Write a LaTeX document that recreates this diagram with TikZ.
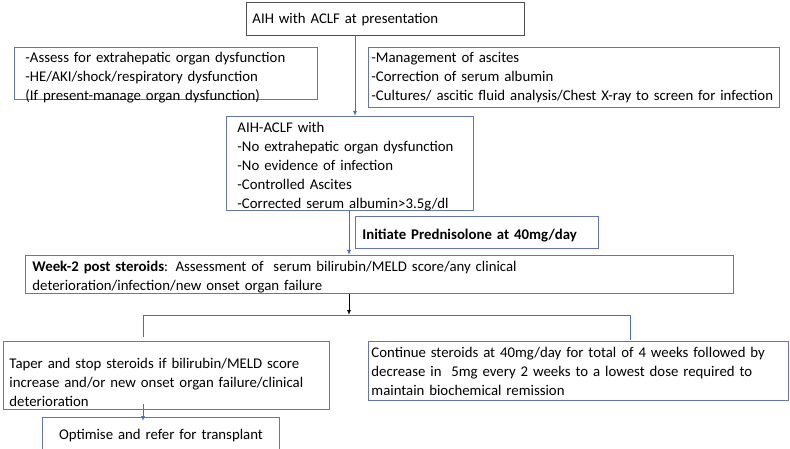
\documentclass[tikz,border=0pt]{standalone}
\usepackage{fontspec}
\setmainfont{Carlito}
\usetikzlibrary{arrows.meta}
\definecolor{boxblue}{HTML}{6474BC}
\definecolor{arrblue}{HTML}{4A6BC8}
\definecolor{boxgray}{HTML}{505050}
\begin{document}
\begin{tikzpicture}[x=1pt,y=-1pt,
  every node/.style={font=\fontsize{14.8}{19}\selectfont, text=black},
  bx/.style={draw=boxblue, line width=0.9pt, align=left, inner ysep=0pt, anchor=north west},
  arr/.style={draw=arrblue, line width=0.9pt, -{Latex[length=5pt,width=4pt]}},
  ln/.style={draw=arrblue, line width=0.9pt}]
\useasboundingbox (0,0) rectangle (790,449);
\begin{scope}
\clip (0,0) rectangle (790,449);
\node[bx, draw=boxgray, inner xsep=6pt, text width=266pt, text height=21pt, text depth=12pt] (top) at (246,2) {AIH with ACLF at presentation};
\node[bx, inner xsep=11pt, text width=281pt, text height=15pt, text depth=37pt] (left) at (14,47) {-Assess for extrahepatic organ dysfunction\\-HE/AKI/shock/respiratory dysfunction\\(If present-manage organ dysfunction)};
\node[bx, inner xsep=3pt, text width=405pt, text height=15pt, text depth=45pt] (right) at (368,47) {-Management of ascites\\-Correction of serum albumin\\-Cultures/ ascitic fluid analysis/Chest X-ray to screen for infection};
\node[bx, inner xsep=11pt, text width=225pt, text height=16pt, text depth=78pt] (acl) at (226,116) {AIH-ACLF with\\-No extrahepatic organ dysfunction\\-No evidence of infection\\-Controlled Ascites\\-Corrected serum albumin>3.5g/dl};
\node[bx, inner xsep=7pt, text width=229pt, text height=23pt, text depth=9pt] (pred) at (355,216) {\textbf{Initiate Prednisolone at 40mg/day}};
\node[bx, inner xsep=7pt, text width=694pt, text height=16pt, text depth=22pt] (week) at (25,255) {\textbf{Week-2 post steroids}: Assessment of\ \ serum bilirubin/MELD score/any clinical\\deterioration/infection/new onset organ failure};
\node[bx, inner xsep=6pt, text width=314pt, text height=27pt, text depth=41pt] (taper) at (3,341) {Taper and stop steroids if bilirubin/MELD score\\increase and/or new onset organ failure/clinical\\deterioration};
\node[bx, inner xsep=3pt, text width=414pt, text height=16pt, text depth=43pt] (cont) at (368,341) {Continue steroids at 40mg/day for total of 4 weeks followed by\\decrease in\ \ 5mg every 2 weeks to a lowest dose required to\\maintain biochemical remission};
\node[bx, inner xsep=0pt, align=center, text width=237pt, text height=22pt, text depth=21pt] (opt) at (42,417) {Optimise and refer for transplant};
\end{scope}
\coordinate (a1) at (355,0);
\coordinate (a2) at (349,0);
\coordinate (a3) at (143,0);
\coordinate (a4) at (630,0);
\coordinate (split) at (349,315);
\coordinate (hl) at (143,315);
\coordinate (hr) at (630,315);
\draw[arr] (top.south -| a1) -- (acl.north -| a1);
\draw[arr] (acl.south -| a2) -- (week.north -| a2);
\draw[arr, draw=black] (week.south -| a2) -- (split);
\draw[ln] (hl) -- (hr);
\draw[ln] (hl) -- ([yshift=4pt]taper.north -| a3);
\draw[ln] (hr) -- ([yshift=1pt]cont.north -| a4);
\draw[arr] ([yshift=6pt]taper.south -| a3) -- ([yshift=-4pt]opt.north -| a3);
\end{tikzpicture}
\end{document}
